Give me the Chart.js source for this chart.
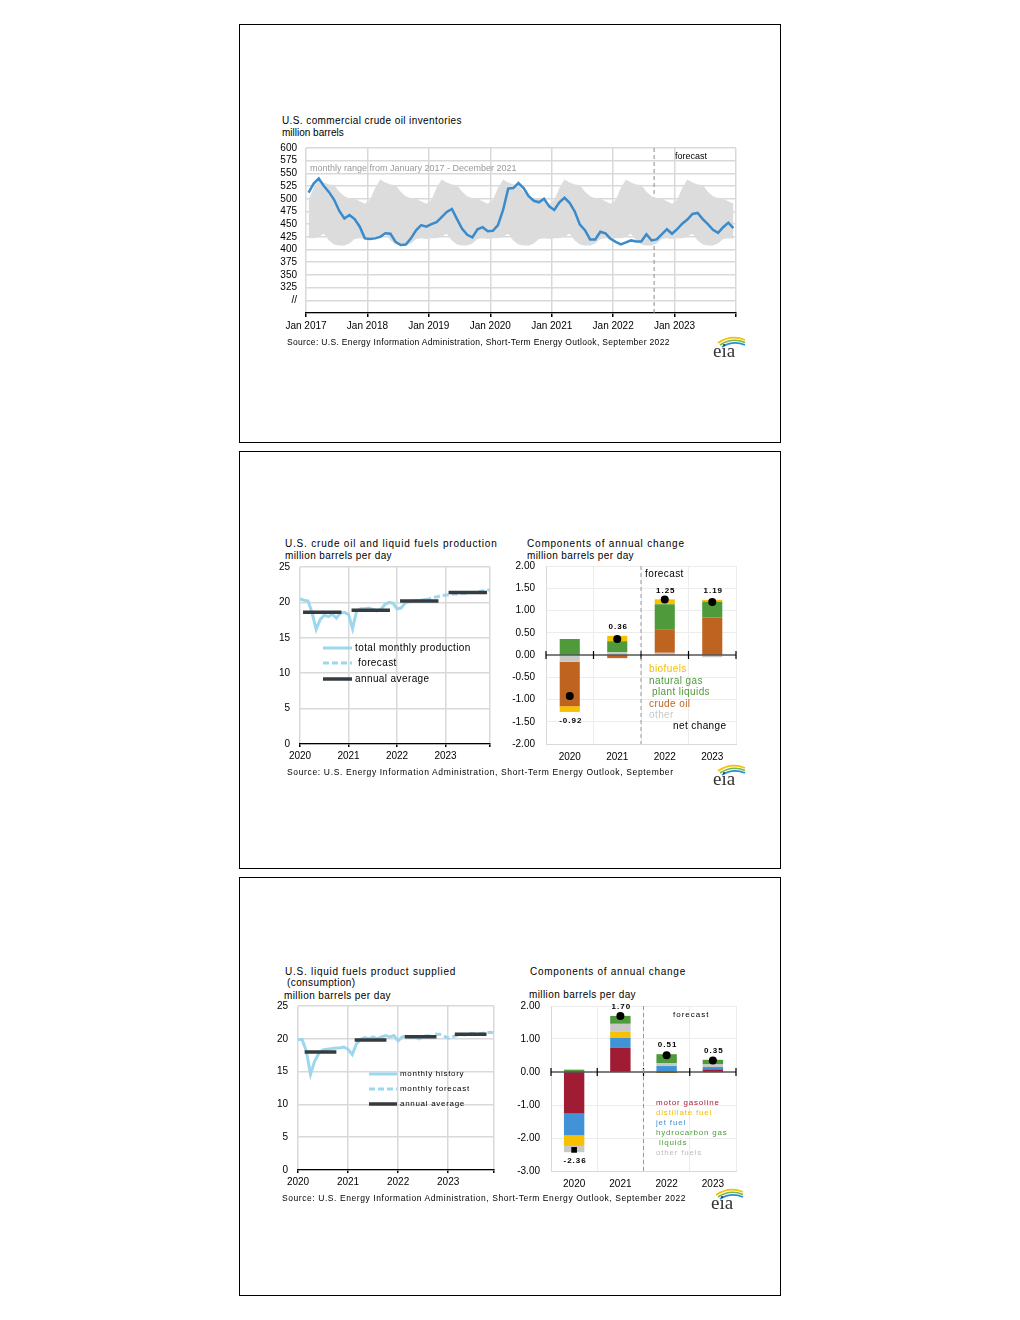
<!DOCTYPE html>
<html>
<head>
<meta charset="utf-8">
<script src="https://cdn.jsdelivr.net/npm/chart.js@4.4.0/dist/chart.umd.min.js"></script>
<style>
body { margin: 0; background: #fff; font-family: "Liberation Sans", Arial, sans-serif; color: #000; }
#page { position: relative; width: 1020px; height: 1320px; }
.panel { position: absolute; left: 239px; width: 542px; box-sizing: border-box; border: 1px solid #000; }
.t { position: absolute; white-space: nowrap; line-height: 12px; font-size: 10px; }
.s2 { letter-spacing: 0.4px; }
.src { font-size: 8.5px; }
.box { position: absolute; }
.logo { position: absolute; }
</style>
</head>
<body>
<div id="page">
  <div class="panel" style="top:24px;height:419px"></div>
  <div class="panel" style="top:451px;height:418px"></div>
  <div class="panel" style="top:877px;height:419px"></div>

  <!-- panel 1 -->
  <div class="t" style="left:282px;top:115px;letter-spacing:0.4px">U.S. commercial crude oil inventories</div>
  <div class="t" style="left:282px;top:127px">million barrels</div>
  <div class="box" style="left:270px;top:133px;width:480px;height:207px"><canvas id="c1"></canvas></div>
  <div class="t" style="left:310px;top:162px;font-size:9px;color:#999">monthly range from January 2017 - December 2021</div>
  <div class="t" style="left:675px;top:150px;font-size:9px">forecast</div>
  <div class="t src" style="left:287px;top:336px;letter-spacing:0.33px">Source: U.S. Energy Information Administration, Short-Term Energy Outlook, September 2022</div>

  <!-- panel 2 -->
  <div class="t" style="left:285px;top:538px;letter-spacing:0.8px">U.S. crude oil and liquid fuels production</div>
  <div class="t s2" style="left:285px;top:550px">million barrels per day</div>
  <div class="t" style="left:527px;top:538px;letter-spacing:0.8px">Components of annual change</div>
  <div class="t s2" style="left:527px;top:550px">million barrels per day</div>
  <div class="box" style="left:270px;top:551px;width:230px;height:219px"><canvas id="c2"></canvas></div>
  <div class="box" style="left:500px;top:549px;width:246px;height:221px"><canvas id="c3"></canvas></div>
  <svg class="box" style="left:320px;top:640px" width="36" height="46">
    <line x1="3" y1="8" x2="32" y2="8" stroke="#9dd7ee" stroke-width="3"/>
    <line x1="3" y1="23" x2="32" y2="23" stroke="#9dd7ee" stroke-width="3" stroke-dasharray="6 3"/>
    <line x1="3" y1="39" x2="32" y2="39" stroke="#353b3f" stroke-width="3.5"/>
  </svg>
  <div class="t s2" style="left:355px;top:642px">total monthly production</div>
  <div class="t s2" style="left:358px;top:657px">forecast</div>
  <div class="t s2" style="left:355px;top:673px">annual average</div>
  <div class="t s2" style="left:645px;top:568px">forecast</div>
  <div class="t s2" style="left:649px;top:663px;color:#f2bd00">biofuels</div>
  <div class="t s2" style="left:649px;top:675px;color:#4f9a3a">natural gas</div>
  <div class="t s2" style="left:652px;top:686px;color:#4f9a3a">plant liquids</div>
  <div class="t s2" style="left:649px;top:698px;color:#bf6420">crude oil</div>
  <div class="t s2" style="left:649px;top:709px;color:#c8c8c8">other</div>
  <div class="t s2" style="left:673px;top:720px">net change</div>
  <div class="t src" style="left:287px;top:766px;letter-spacing:0.65px">Source: U.S. Energy Information Administration, Short-Term Energy Outlook, September</div>

  <!-- panel 3 -->
  <div class="t" style="left:285px;top:966px;letter-spacing:0.75px">U.S. liquid fuels product supplied</div>
  <div class="t s2" style="left:287px;top:977px">(consumption)</div>
  <div class="t s2" style="left:284px;top:990px">million barrels per day</div>
  <div class="t" style="left:530px;top:966px;letter-spacing:0.73px">Components of annual change</div>
  <div class="t s2" style="left:529px;top:989px">million barrels per day</div>
  <div class="box" style="left:270px;top:990px;width:234px;height:205px"><canvas id="c4"></canvas></div>
  <div class="box" style="left:500px;top:989px;width:246px;height:206px"><canvas id="c5"></canvas></div>
  <svg class="box" style="left:366px;top:1066px" width="36" height="46">
    <line x1="3" y1="8" x2="31" y2="8" stroke="#9dd7ee" stroke-width="3"/>
    <line x1="3" y1="23" x2="31" y2="23" stroke="#9dd7ee" stroke-width="3" stroke-dasharray="6 3"/>
    <line x1="3" y1="38" x2="31" y2="38" stroke="#353b3f" stroke-width="3.5"/>
  </svg>
  <div class="t" style="left:400px;top:1068px;font-size:8px;letter-spacing:0.7px">monthly history</div>
  <div class="t" style="left:400px;top:1083px;font-size:8px;letter-spacing:0.7px">monthly forecast</div>
  <div class="t" style="left:400px;top:1098px;font-size:8px;letter-spacing:0.7px">annual average</div>
  <div class="t" style="left:673px;top:1009px;font-size:8px;letter-spacing:1px">forecast</div>
  <div class="t" style="left:656px;top:1097px;font-size:8px;letter-spacing:0.8px;color:#a01c34">motor gasoline</div>
  <div class="t" style="left:656px;top:1107px;font-size:8px;letter-spacing:0.8px;color:#f2bd00">distillate fuel</div>
  <div class="t" style="left:656px;top:1117px;font-size:8px;letter-spacing:0.8px;color:#3f93d6">jet fuel</div>
  <div class="t" style="left:656px;top:1127px;font-size:8px;letter-spacing:0.8px;color:#4f9a3a">hydrocarbon gas</div>
  <div class="t" style="left:659px;top:1137px;font-size:8px;letter-spacing:0.8px;color:#4f9a3a">liquids</div>
  <div class="t" style="left:656px;top:1147px;font-size:8px;letter-spacing:0.8px;color:#bdbdbd">other fuels</div>
  <div class="t src" style="left:282px;top:1192px;letter-spacing:0.57px">Source: U.S. Energy Information Administration, Short-Term Energy Outlook, September 2022</div>
</div>

<script>
// U.S. commercial crude oil inventories, monthly Jan 2017 - Dec 2023 (million barrels)
const inventory = [
  512, 530, 540, 525, 513, 498, 476, 461, 468, 460, 445, 422,
  421, 422, 425, 432, 431, 415, 409, 410, 422, 438, 448, 445,
  450, 454, 464, 474, 480, 460, 441, 429, 424, 440, 444, 436,
  437, 448, 478, 520, 521, 531, 521, 505, 496, 493, 500, 485,
  478, 493, 502, 492, 475, 449, 438, 420, 420, 435, 432, 421,
  415, 410, 414, 418, 416, 416, 430, 418, 420, 430, 440, 431,
  440, 451, 459, 470, 472, 460, 450, 439, 433, 444, 453, 442
];
// monthly range Jan-Dec (2017-2021)
const rangeHigh = [498, 521, 538, 532, 528, 527, 514, 505, 501, 500, 495, 490];
const rangeLow = [422, 422, 425, 431, 418, 410, 408, 408, 412, 421, 422, 421];
const invTicks = ['Jan 2017', 'Jan 2018', 'Jan 2019', 'Jan 2020', 'Jan 2021', 'Jan 2022', 'Jan 2023'];
const invForecastStart = 68; // Sep 2022

// production, monthly Jan 2020 - Dec 2023
const production = [
  20.5, 20.3, 20.2, 18.5, 16.2, 17.6, 18.2, 18.0, 18.3, 17.8, 18.5, 18.6,
  18.3, 16.3, 18.8, 19.1, 19.1, 19.2, 19.0, 18.8, 19.0, 19.7, 20.0, 19.9,
  19.1, 19.2, 19.9, 20.1, 20.2, 20.2, 20.3, 20.4, 20.5, 20.7, 20.8, 21.0,
  21.0, 21.1, 21.2, 21.2, 21.3, 21.3, 21.4, 21.4, 21.5, 21.6, 21.7, 21.8
];
const prodAnnual = [18.6, 18.9, 20.2, 21.4];

// consumption, monthly Jan 2020 - Dec 2023
const consumption = [
  19.9, 19.9, 18.1, 14.6, 16.6, 17.8, 18.3, 18.4, 18.5, 18.6, 18.6, 18.75,
  18.4, 17.6, 19.2, 19.9, 20.2, 20.0, 20.3, 20.0, 20.3, 20.5, 20.3, 20.5,
  19.7, 20.3, 20.4, 20.2, 20.3, 20.0, 20.3, 20.5, 20.3, 20.7, 20.7, 20.4,
  20.1, 20.3, 20.5, 20.7, 20.6, 20.8, 20.8, 20.7, 20.8, 20.9, 21.0, 20.9
];
const consAnnual = [18.0, 19.8, 20.3, 20.7];
const yearTicks = ['2020', '2021', '2022', '2023'];
const lastHistory = 31; // Aug 2022

// components of annual change, production
const years = ['2020', '2021', '2022', '2023'];
const prodOther = [-0.15, 0.06, 0.05, -0.05];
const prodCrude = [-1.00, -0.07, 0.53, 0.84];
const prodNgpl = [0.36, 0.25, 0.56, 0.36];
const prodBio = [-0.13, 0.12, 0.11, 0.04];
const prodNet = [-0.92, 0.36, 1.25, 1.19];

// components of annual change, consumption
const consGasoline = [-1.26, 0.73, -0.01, 0.08];
const consJet = [-0.66, 0.30, 0.18, 0.07];
const consDistillate = [-0.32, 0.20, -0.02, -0.02];
const consOther = [-0.19, 0.23, 0.08, 0.08];
const consHgl = [0.07, 0.24, 0.28, 0.14];
const consNet = [-2.36, 1.70, 0.51, 0.35];

Chart.defaults.font.family = '"Liberation Sans", Arial, sans-serif';
Chart.defaults.font.size = 10;
Chart.defaults.color = '#000';
Chart.defaults.animation = false;
Chart.defaults.plugins.legend.display = false;
Chart.defaults.plugins.tooltip.enabled = false;

const GRID = '#d9d9d9';
const LIGHTBLUE = '#9dd7ee';
const DARK = '#353b3f';

function dashedAt(getX) {
  return {
    id: 'dashed',
    beforeDatasetsDraw(chart) {
      const { ctx, chartArea } = chart;
      const x = getX(chart);
      ctx.save();
      ctx.strokeStyle = '#8c8c8c';
      ctx.lineWidth = 1;
      ctx.setLineDash([4, 3]);
      ctx.beginPath();
      ctx.moveTo(x, chartArea.top);
      ctx.lineTo(x, chartArea.bottom);
      ctx.stroke();
      ctx.restore();
    }
  };
}

// chart 1: inventories
new Chart(document.getElementById('c1'), {
  type: 'line',
  data: {
    datasets: [
      {
        data: inventory.map((v, i) => ({ x: i + 0.5, y: v })),
        borderColor: '#3a8bcb', borderWidth: 2.5, pointRadius: 0, fill: false
      },
      {
        data: inventory.map((v, i) => ({ x: i + 0.5, y: rangeHigh[i % 12] })),
        borderWidth: 0, pointRadius: 0, backgroundColor: '#dcdcdc', fill: '+1'
      },
      {
        data: inventory.map((v, i) => ({ x: i + 0.5, y: rangeLow[i % 12] })),
        borderWidth: 0, pointRadius: 0, fill: false
      }
    ]
  },
  options: {
    responsive: true,
    maintainAspectRatio: false,
    layout: { padding: { top: 0, right: 14 } },
    scales: {
      x: {
        type: 'linear', min: 0, max: 84,
        ticks: { stepSize: 12, maxRotation: 0, autoSkip: false, padding: 3,
          callback: v => invTicks[v / 12] || '' },
        grid: { color: GRID, lineWidth: 1.5, tickColor: '#000', tickLength: 4 },
        border: { color: '#000', width: 1.2 },
        afterFit: s => { s.height = 27; }
      },
      y: {
        min: 275, max: 600,
        ticks: { stepSize: 25, padding: 9, autoSkip: false,
          callback: v => v === 275 ? '' : (v === 300 ? '//' : v) },
        grid: { color: GRID, lineWidth: 1.5, drawTicks: false },
        border: { display: false },
        afterFit: s => { s.width = 36; }
      }
    }
  },
  plugins: [dashedAt(c => c.scales.x.getPixelForValue(invForecastStart))]
});

function annualSegments(values, from, to) {
  const pts = [];
  values.forEach((v, k) => {
    pts.push({ x: k * 12 + from, y: v }, { x: k * 12 + to, y: v }, { x: k * 12 + to, y: null });
  });
  return pts;
}

function monthlyChart(id, monthly, annual, span, yWidth, xHeight) {
  new Chart(document.getElementById(id), {
    type: 'line',
    data: {
      datasets: [
        {
          data: annualSegments(annual, span[0], span[1]),
          borderColor: DARK, borderWidth: 3.5, pointRadius: 0, spanGaps: false
        },
        {
          data: monthly.map((v, i) => ({ x: i, y: v })).filter(p => p.x <= lastHistory),
          borderColor: LIGHTBLUE, borderWidth: 3, pointRadius: 0
        },
        {
          data: monthly.map((v, i) => ({ x: i, y: v })).filter(p => p.x >= lastHistory),
          borderColor: LIGHTBLUE, borderWidth: 3, pointRadius: 0, borderDash: [6, 3]
        }
      ]
    },
    options: {
      responsive: true,
      maintainAspectRatio: false,
      layout: { padding: { top: 0, right: 10 } },
      scales: {
        x: {
          type: 'linear', min: 0, max: 47,
          ticks: { stepSize: 12, maxRotation: 0, autoSkip: false, padding: 3,
            callback: v => (v % 12 === 0 ? yearTicks[v / 12] : '') },
          grid: { color: GRID, lineWidth: 1.5, tickColor: '#000', tickLength: 3 },
          border: { color: '#000', width: 1.2 },
          afterFit: s => { s.height = xHeight; }
        },
        y: {
          min: 0, max: 25,
          ticks: { stepSize: 5, padding: 10, autoSkip: false },
          grid: { color: GRID, lineWidth: 1.5, drawTicks: false },
          border: { display: false },
          afterFit: s => { s.width = yWidth; }
        }
      }
    }
  });
}

monthlyChart('c2', production, prodAnnual, [0.75, 10.25], 30, 26);
monthlyChart('c4', consumption, consAnnual, [1.6, 9.2], 28, 25);

const barExtras = {
  id: 'barExtras',
  afterDatasetsDraw(chart) {
    const { ctx, chartArea: a, scales: { x, y } } = chart;
    const n = chart.data.labels.length;
    const step = (a.right - a.left) / n;
    const y0 = y.getPixelForValue(0);
    ctx.save();
    ctx.strokeStyle = '#000';
    ctx.lineWidth = 1.2;
    ctx.beginPath();
    ctx.moveTo(a.left, y0);
    ctx.lineTo(a.right, y0);
    for (let i = 0; i <= n; i++) {
      const xx = a.left + step * i;
      ctx.moveTo(xx, y0 - 4);
      ctx.lineTo(xx, y0 + 4);
    }
    ctx.stroke();

    const fx = a.left + step * 2;
    ctx.strokeStyle = '#999';
    ctx.lineWidth = 1;
    ctx.setLineDash([4, 3]);
    ctx.beginPath();
    ctx.moveTo(fx, a.top);
    ctx.lineTo(fx, a.bottom);
    ctx.stroke();
    ctx.setLineDash([]);

    const bars = chart.data.datasets.filter(d => d.type !== 'line');
    const net = chart.data.datasets.find(d => d.type === 'line').data;
    ctx.font = 'bold 8px "Liberation Sans", Arial, sans-serif';
    ctx.letterSpacing = '1px';
    ctx.fillStyle = '#000';
    ctx.textAlign = 'center';
    ctx.textBaseline = 'middle';
    net.forEach((v, i) => {
      let pos = 0, neg = 0;
      bars.forEach(d => { if (d.data[i] > 0) pos += d.data[i]; else neg += d.data[i]; });
      const cx = x.getPixelForValue(i) + 1;
      const ty = v >= 0 ? y.getPixelForValue(pos) - 9 : y.getPixelForValue(neg) + 9;
      ctx.fillText(v.toFixed(2), cx, ty);
    });
    ctx.restore();
  }
};

function componentChart(id, series, net, netStyle, yMin, yMax, yStep, yWidth, xHeight, catPct) {
  new Chart(document.getElementById(id), {
    type: 'bar',
    data: {
      labels: years,
      datasets: [
        {
          type: 'line', data: net, showLine: false, stack: 'net', order: -1,
          pointRadius: 4, pointStyle: netStyle, pointBackgroundColor: '#000', pointBorderWidth: 0
        }
      ].concat(series.map(s => ({
        data: s.values, backgroundColor: s.color, stack: 'bars',
        barPercentage: 0.9, categoryPercentage: catPct
      })))
    },
    options: {
      responsive: true,
      maintainAspectRatio: false,
      layout: { padding: { top: 0, right: 10 } },
      scales: {
        x: {
          stacked: true,
          ticks: { padding: 7, maxRotation: 0 },
          grid: { color: '#ececec', drawTicks: false },
          border: { color: GRID },
          afterFit: s => { s.height = xHeight; }
        },
        y: {
          stacked: true, min: yMin, max: yMax,
          ticks: { stepSize: yStep, padding: 11, autoSkip: false, callback: v => v.toFixed(2) },
          grid: { color: c => (c.tick.value === 0 ? 'rgba(0,0,0,0)' : '#ececec'), drawTicks: false },
          border: { color: GRID },
          afterFit: s => { s.width = yWidth; }
        }
      }
    },
    plugins: [barExtras]
  });
}

componentChart('c3', [
  { values: prodOther, color: '#c8c8c8' },
  { values: prodCrude, color: '#bf6420' },
  { values: prodNgpl, color: '#4f9a3a' },
  { values: prodBio, color: '#f7c100' }
], prodNet, 'circle', -2, 2, 0.5, 46, 26, 0.47);

componentChart('c5', [
  { values: consGasoline, color: '#a01c34' },
  { values: consJet, color: '#3f93d6' },
  { values: consDistillate, color: '#f7c100' },
  { values: consOther, color: '#c8c8c8' },
  { values: consHgl, color: '#4f9a3a' }
], consNet, ['rect', 'circle', 'circle', 'circle'], -3, 2, 1, 51, 24, 0.49);

// eia logos
function logo(left, top) {
  const ns = 'http://www.w3.org/2000/svg';
  const svg = document.createElementNS(ns, 'svg');
  svg.setAttribute('width', '36');
  svg.setAttribute('height', '25');
  svg.setAttribute('class', 'logo');
  svg.style.left = left + 'px';
  svg.style.top = top + 'px';
  svg.innerHTML =
    '<path d="M7 9 Q20 0 34 6" stroke="#f2c200" stroke-width="1.6" fill="none"/>' +
    '<path d="M9 11 Q21 3 34 8.5" stroke="#78b843" stroke-width="1.6" fill="none"/>' +
    '<path d="M11 13 Q22 6 34 11" stroke="#2a8fd1" stroke-width="1.6" fill="none"/>' +
    '<text x="2" y="23" font-family="Liberation Serif, serif" font-size="19" fill="#333">eia</text>';
  document.getElementById('page').appendChild(svg);
}
logo(711, 334);
logo(711, 762);
logo(709, 1186);
</script>
</body>
</html>
